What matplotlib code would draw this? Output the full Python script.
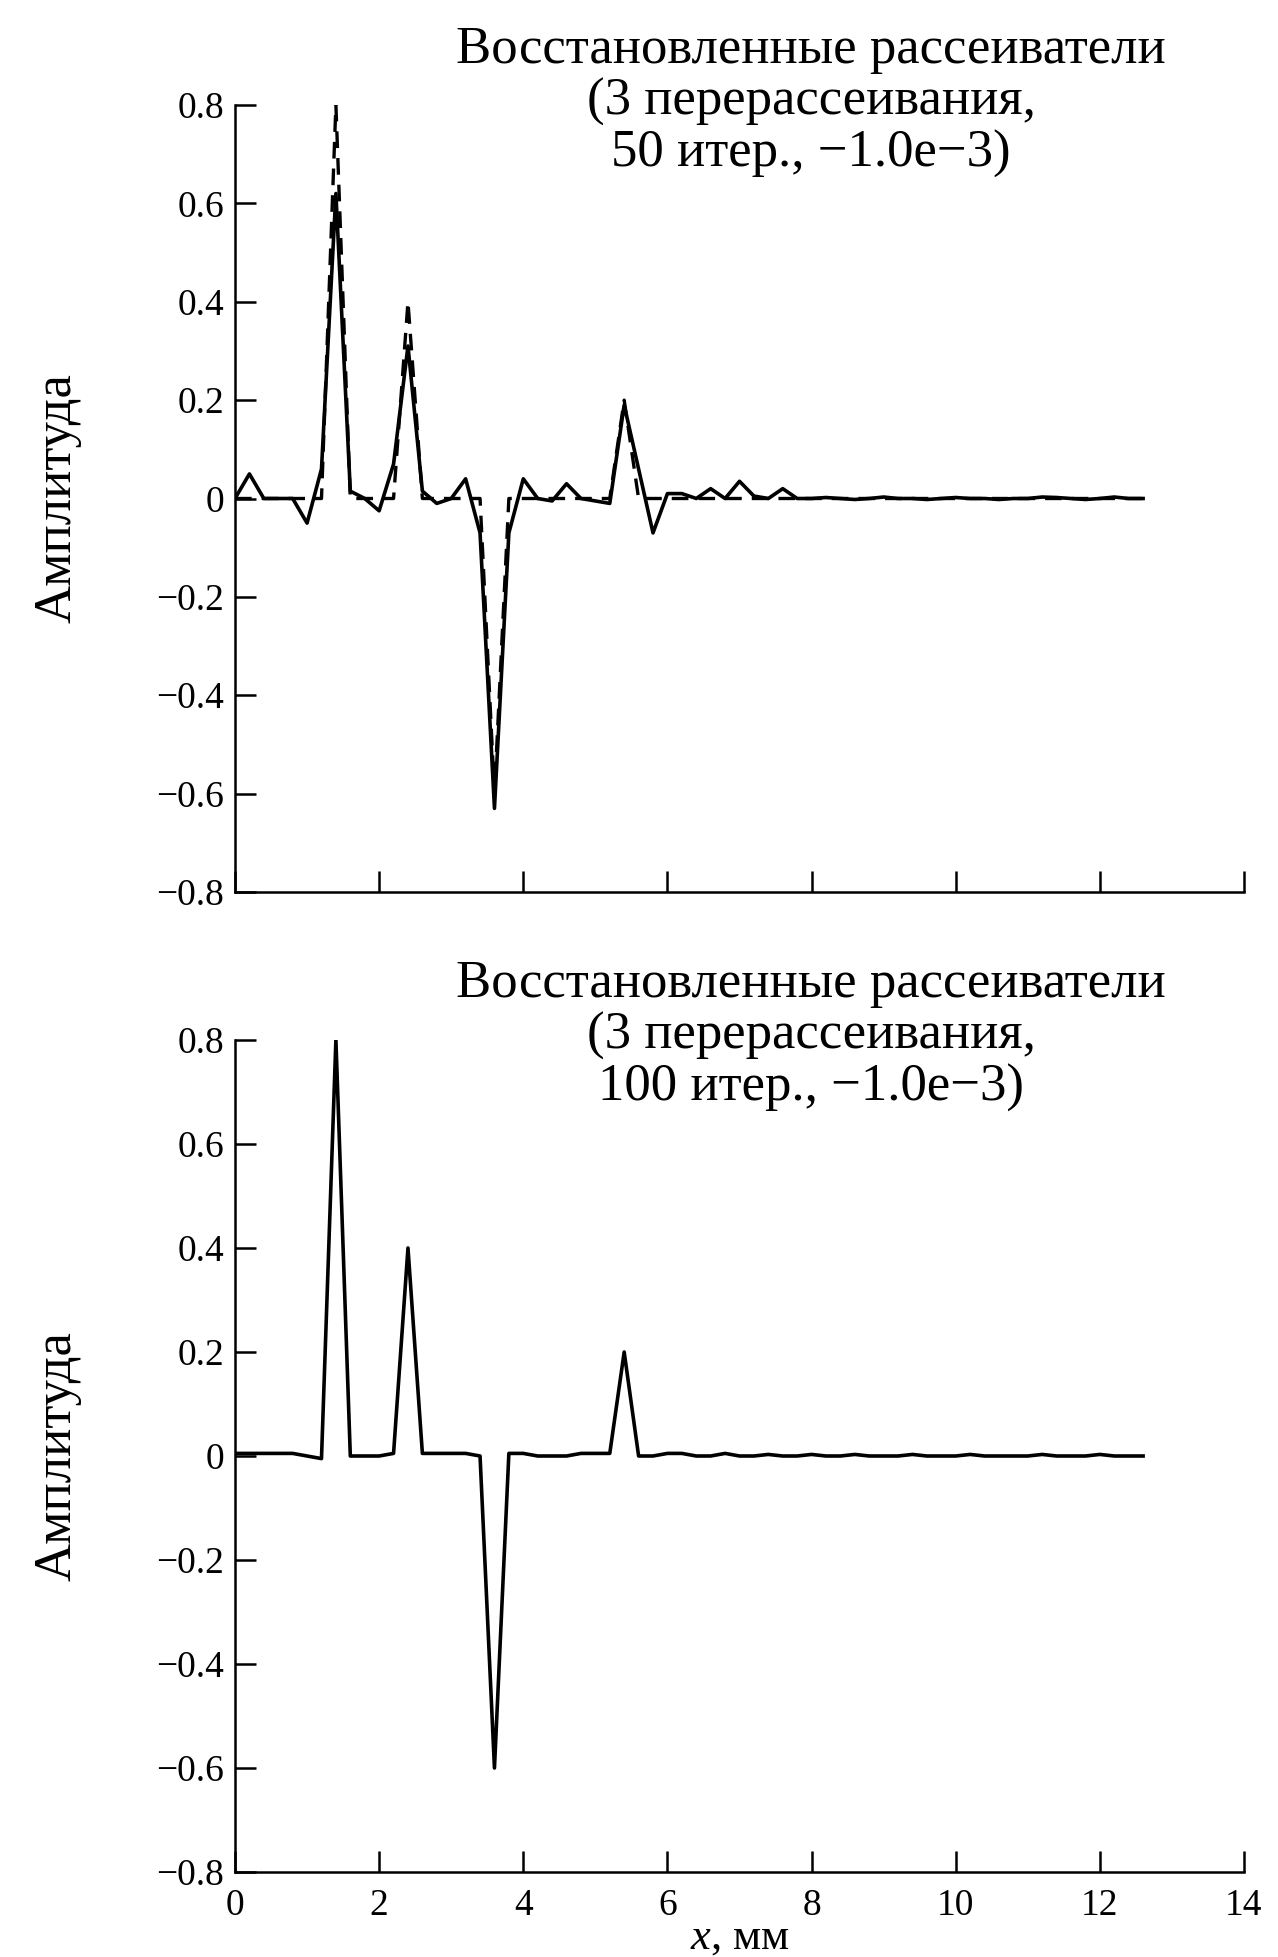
import matplotlib
matplotlib.use('Agg')
import matplotlib.pyplot as plt

plt.rcParams['font.family'] = ['Liberation Serif', 'DejaVu Serif']
plt.rcParams['mathtext.fontset'] = 'custom'
plt.rcParams['mathtext.it'] = 'Liberation Serif:italic'
plt.rcParams['mathtext.rm'] = 'Liberation Serif'

# grid of points, mm
x_mm = [0.0, 0.2, 0.4, 0.6, 0.8, 1.0, 1.2, 1.4, 1.6, 1.8,
        2.0, 2.2, 2.4, 2.6, 2.8, 3.0, 3.2, 3.4, 3.6, 3.8,
        4.0, 4.2, 4.4, 4.6, 4.8, 5.0, 5.2, 5.4, 5.6, 5.8,
        6.0, 6.2, 6.4, 6.6, 6.8, 7.0, 7.2, 7.4, 7.6, 7.8,
        8.0, 8.2, 8.4, 8.6, 8.8, 9.0, 9.2, 9.4, 9.6, 9.8,
        10.0, 10.2, 10.4, 10.6, 10.8, 11.0, 11.2, 11.4, 11.6, 11.8,
        12.0, 12.2, 12.4, 12.6]

# true scatterers (dashed)
true_amp = [0.0, 0.0, 0.0, 0.0, 0.0, 0.0, 0.0, 0.8, 0.0, 0.0,
            0.0, 0.0, 0.4, 0.0, 0.0, 0.0, 0.0, 0.0, -0.6, 0.0,
            0.0, 0.0, 0.0, 0.0, 0.0, 0.0, 0.0, 0.2, 0.0, 0.0,
            0.0, 0.0, 0.0, 0.0, 0.0, 0.0, 0.0, 0.0, 0.0, 0.0,
            0.0, 0.0, 0.0, 0.0, 0.0, 0.0, 0.0, 0.0, 0.0, 0.0,
            0.0, 0.0, 0.0, 0.0, 0.0, 0.0, 0.0, 0.0, 0.0, 0.0,
            0.0, 0.0, 0.0, 0.0]

# reconstruction after 50 iterations
rec_50 = [0.0, 0.05, 0.0, 0.0, 0.0, -0.05, 0.06, 0.62, 0.015, 0.0,
          -0.025, 0.07, 0.31, 0.015, -0.01, 0.0, 0.04, -0.07, -0.63, -0.07,
          0.04, 0.0, -0.005, 0.03, 0.0, -0.005, -0.01, 0.19, 0.06, -0.07,
          0.01, 0.01, 0.0, 0.02, 0.0, 0.035, 0.005, 0.0, 0.02, 0.0,
          0.0, 0.002, 0.0, -0.002, 0.0, 0.003, 0.0, 0.0, -0.002, 0.0,
          0.002, 0.0, 0.0, -0.002, 0.0, 0.0, 0.003, 0.002, 0.0, -0.002,
          0.0, 0.003, 0.0, 0.0]

# reconstruction after 100 iterations
rec_100 = [0.005, 0.005, 0.005, 0.005, 0.005, 0.0, -0.005, 0.8, 0.0, 0.0,
           0.0, 0.005, 0.4, 0.005, 0.005, 0.005, 0.005, 0.0, -0.6, 0.005,
           0.005, 0.0, 0.0, 0.0, 0.005, 0.005, 0.005, 0.2, 0.0, 0.0,
           0.005, 0.005, 0.0, 0.0, 0.005, 0.0, 0.0, 0.003, 0.0, 0.0,
           0.003, 0.0, 0.0, 0.003, 0.0, 0.0, 0.0, 0.003, 0.0, 0.0,
           0.0, 0.003, 0.0, 0.0, 0.0, 0.0, 0.003, 0.0, 0.0, 0.0,
           0.003, 0.0, 0.0, 0.0]

y_ticks = [0.8, 0.6, 0.4, 0.2, 0.0, -0.2, -0.4, -0.6, -0.8]
y_ticklabels = ['0.8', '0.6', '0.4', '0.2', '0', '\u22120.2', '\u22120.4', '\u22120.6', '\u22120.8']
x_ticks = [0, 2, 4, 6, 8, 10, 12, 14]

titles = ['Восстановленные рассеиватели\n(3 перерассеивания,\n50 итер., \u22121.0e\u22123)',
          'Восстановленные рассеиватели\n(3 перерассеивания,\n100 итер., \u22121.0e\u22123)']

W, H = 1278, 1957
fig = plt.figure(figsize=(W / 100, H / 100), dpi=100)

left = 235 / W
width = (1244 - 235) / W
ax1 = fig.add_axes([left, 1 - 892 / H, width, (892 - 105) / H])
ax2 = fig.add_axes([left, 1 - 1872 / H, width, (1872 - 1040) / H])

ax1.plot(x_mm, true_amp, color='black', lw=2.4, ls=(0, (5, 3)))
ax1.plot(x_mm, rec_50, color='black', lw=2.6)
ax2.plot(x_mm, rec_100, color='black', lw=2.6)

for ax in (ax1, ax2):
    ax.set_xlim(0, 14)
    ax.set_ylim(-0.8, 0.8)
    ax.set_yticks(y_ticks)
    ax.set_yticklabels(y_ticklabels)
    ax.set_xticks(x_ticks)
    for s in ('top', 'right'):
        ax.spines[s].set_visible(False)
    for s in ('left', 'bottom'):
        ax.spines[s].set_linewidth(1.8)
    ax.tick_params(direction='in', length=15, width=1.8, labelsize=27, pad=8)
    ax.set_ylabel('Амплитуда', fontsize=38)
    ax.yaxis.set_label_coords(-0.152, 0.5)

ax1.tick_params(axis='x', labelbottom=False)
ax2.tick_params(axis='x', pad=12)
ax2.set_xlabel('$x$, мм', fontsize=32, labelpad=-4)

fig.text(811 / W, 1 - 102 / H, titles[0], ha='center', va='center',
         fontsize=38, linespacing=1.1)
fig.text(811 / W, 1 - 1036 / H, titles[1], ha='center', va='center',
         fontsize=38, linespacing=1.1)

fig.savefig('out.png', dpi=100, facecolor='white')
